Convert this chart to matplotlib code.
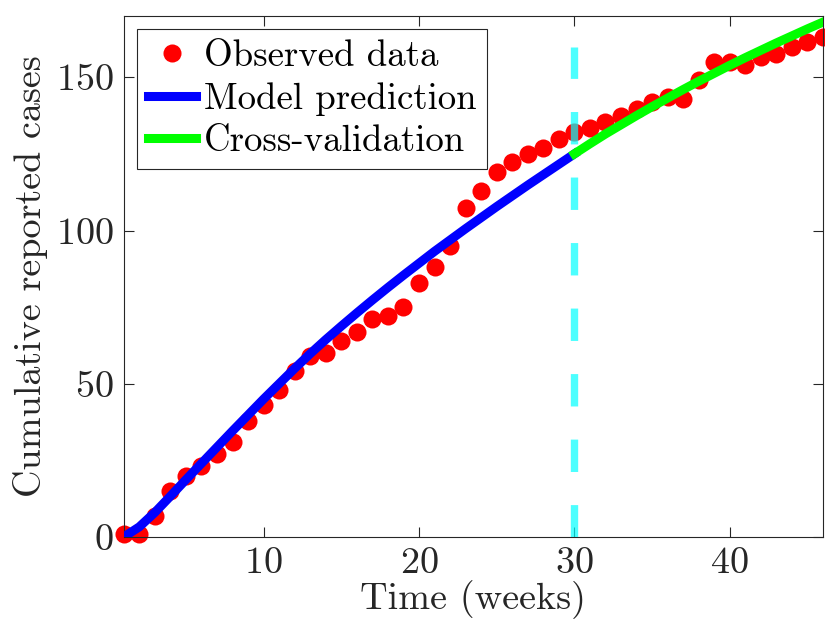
import matplotlib
matplotlib.use("Agg")
import matplotlib.pyplot as plt

matplotlib.rcParams.update({
    "font.family": "cmr10",
    "axes.formatter.use_mathtext": True,
    "font.size": 27.5,
})

# ── Data ───────────────────────────────────────────────────────
weeks = list(range(1, 47))
observed = [1, 1, 7, 15, 20, 23, 27, 31, 38, 43,
            48, 54, 59, 60, 64, 67, 71, 72, 75, 83,
            88, 95, 107.5, 113, 119, 122.5, 125, 127, 130, 132,
            133.5, 135.5, 137.5, 139.5, 142, 143.5, 143, 149, 155, 155,
            154, 156.5, 157.5, 160, 161.5, 163]

fit_weeks = list(range(1, 31))
fit_cases = [0, 3.3, 8, 13.3, 18.7, 24, 29.3, 34.6, 39.8, 45,
             50, 55, 59.8, 64.4, 68.8, 73.1, 77.3, 81.4, 85.4, 89.3,
             93.2, 96.9, 100.6, 104.2, 107.8, 111.3, 114.8, 118.2, 121.6, 125]

cv_weeks = list(range(30, 47))
cv_cases = [125, 128.3, 131.5, 134.5, 137.5, 140.4, 143.2, 146, 148.7, 151.3,
            153.9, 156.4, 158.8, 161.2, 163.5, 165.8, 168]

split_week = 30
split_range = [0, 160]

RED = "#ff0000"
BLUE = "#0000ff"
GREEN = "#00ff00"
CYAN = "#00ffff"
GREY = "#262626"

fig = plt.figure(figsize=(8.25, 6.29), dpi=100)
ax = fig.add_axes([0.150, 0.1463, 0.8476, 0.8283])

ax.plot(weeks, observed, "o", color=RED, markersize=13, markeredgewidth=0,
        label="Observed data", zorder=2, clip_on=False)
ax.plot(fit_weeks, fit_cases, "-", color=BLUE, linewidth=6.5,
        label="Model prediction", zorder=3)
ax.plot(cv_weeks, cv_cases, "-", color=GREEN, linewidth=6.5,
        label="Cross-validation", zorder=3)
ax.plot([split_week, split_week], split_range, color=CYAN, alpha=0.7,
        linewidth=5.3, linestyle=(0, (4.4, 4.5)), zorder=4)

ax.set_xlim(1, 46)
ax.set_ylim(0, 170)
ax.set_xticks([10, 20, 30, 40])
ax.set_yticks([0, 50, 100, 150])
ax.set_xlabel("Time (weeks)", color=GREY, labelpad=0)
ax.set_ylabel("Cumulative reported cases", color=GREY, labelpad=6)

ax.tick_params(direction="in", length=7, width=0.8, colors=GREY,
               top=True, right=True, labelsize=27.5, pad=7)
for s in ax.spines.values():
    s.set_color(GREY)
    s.set_linewidth(0.8)

leg = ax.legend(loc="upper left", bbox_to_anchor=(0.009, 0.99),
                fontsize=26.5, fancybox=False, framealpha=1,
                edgecolor=GREY, borderpad=0.3, labelspacing=0.25,
                handlelength=1.3, handletextpad=0.2, borderaxespad=0.2)
leg.get_frame().set_linewidth(0.8)
leg.set_zorder(5)

fig.savefig("out.png", dpi=100)
